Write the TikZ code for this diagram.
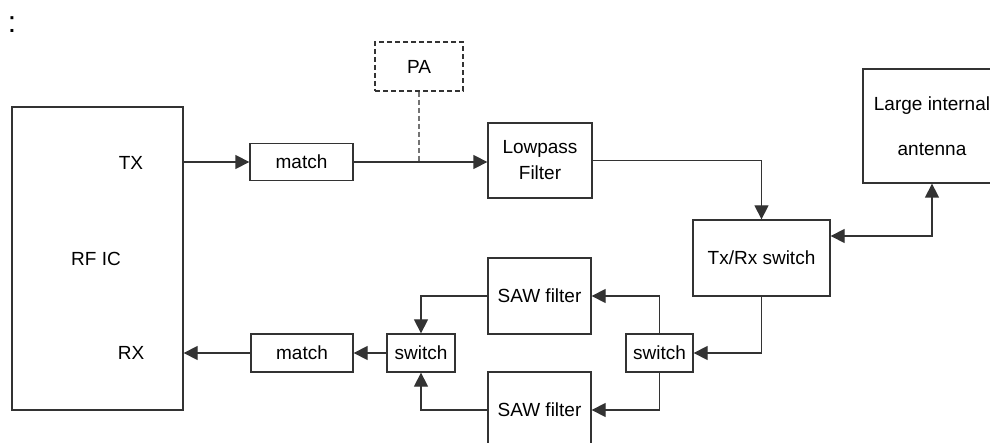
\documentclass[tikz,border=0pt]{standalone}
\usepackage{fontspec}
\setmainfont{Liberation Sans}
\usetikzlibrary{arrows.meta}
\tikzset{
  block/.style={draw=black!80, line width=1.3pt, fill=white, inner sep=0pt,
                align=center, font=\fontsize{19}{22}\selectfont},
  lbl/.style={inner sep=0pt, font=\fontsize{19}{22}\selectfont},
  wire/.style={draw=black!80, line width=1.3pt},
  arr/.style={wire, -{Triangle[length=14pt,width=14pt]}},
  biarr/.style={wire, {Triangle[length=14pt,width=14pt]}-{Triangle[length=14pt,width=14pt]}},
  dashedline/.style={dash pattern=on 5pt off 3pt},
}
\begin{document}
\begin{tikzpicture}[x=1pt, y=-1pt]
\useasboundingbox (0,0) rectangle (990,443);
\clip (0,0) rectangle (990,443);

% heading mark
\node[inner sep=0pt, font=\fontsize{30}{30}\selectfont] (colon) at (12,25) {:};

% transceiver chip
\node[block, minimum width=171pt, minimum height=303pt] (rfic) at (97.5,258.5) {};
\node[lbl] (rficlbl) at (96,259) {RF IC};
\node[lbl] (txlbl) at (131,163) {TX};
\node[lbl] (rxlbl) at (131,353) {RX};

% transmit chain
\node[block, minimum width=103pt, minimum height=37pt] (match1) at (301.5,162) {match};
\node[block, dashedline, minimum width=88pt, minimum height=49pt] (pa) at (419,66.5) {PA};
\node[block, minimum width=104pt, minimum height=75pt] (lpf) at (540,160.5) {Lowpass\\[4pt]Filter};
\node[block, minimum width=137pt, minimum height=76pt] (txrx) at (761.5,258) {Tx/Rx switch};
\node[block, minimum width=138pt, minimum height=114pt] (ant) at (932,126) {Large internal\\[23pt]antenna};

% receive chain
\node[block, minimum width=103pt, minimum height=76pt] (sawT) at (539.5,296) {SAW filter};
\node[block, minimum width=103pt, minimum height=76pt] (sawB) at (539.5,410) {SAW filter};
\node[block, minimum width=67pt, minimum height=38pt] (swR) at (659.5,353) {switch};
\node[block, minimum width=68pt, minimum height=38pt] (swL) at (421,353) {switch};
\node[block, minimum width=102pt, minimum height=38pt] (match2) at (302,353) {match};

% transmit connections
\draw[arr] (rfic.east |- match1.west) -- (match1.west);
\draw[arr] (match1.east) -- (lpf.west |- match1.east);
\draw[wire, dashedline, draw=black!55] (pa.south) -- (pa.south |- match1.east);
\draw[arr] (lpf.east) -| (txrx.north);
\draw[biarr] (txrx.east |- 0,236) -| (ant.south);

% receive connections
\draw[arr] (txrx.south) |- (swR.east);
\draw[arr] (swR.north) |- (sawT.east);
\draw[arr] (swR.south) |- (sawB.east);
\draw[arr] (sawT.west) -| (swL.north);
\draw[arr] (sawB.west) -| (swL.south);
\draw[arr] (swL.west) -- (match2.east);
\draw[arr] (match2.west) -- (rfic.east |- match2.west);
\end{tikzpicture}
\end{document}
